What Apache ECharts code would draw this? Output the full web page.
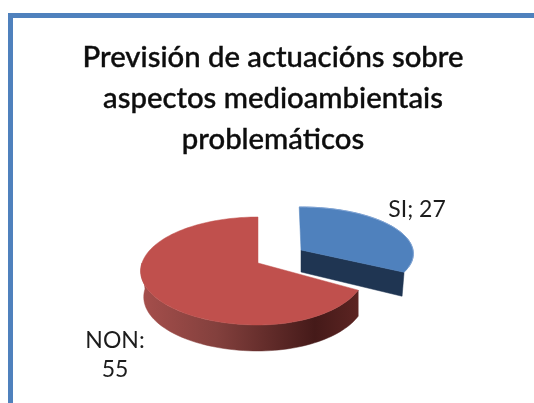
<!DOCTYPE html>
<html><head><meta charset="utf-8">
<style>html,body{margin:0;padding:0;background:#fff}#c{width:534px;height:403px}</style>
<script src="https://cdn.jsdelivr.net/npm/echarts@6/dist/echarts.min.js"></script>
</head><body><div id="c"></div>
<script>
const titleLines = ['Previsión de actuacións sobre','aspectos medioambientais','problemáticos'];
const categories = ['SI','NON'];
const values = [27,55];
const labelSeparators = ['; ',':\n'];

const total = values.reduce((a,b)=>a+b,0);
const geo = [
 {tx:301,ty:250,rxL:112,rxR:112,a:46.4,k:-0.079,depth:22,lean:-1,top:'#4f81bd',wall:'#1f3552',
  lx:417,ly:210,rim:'#7fa3d4'},
 {tx:258,ty:263,rxL:116,rxR:106,a:52.8,k:-0.148,depth:26,lean:0,top:'#c0504d',
  side:{type:'linear',x:0,y:0,x2:1,y2:0,colorStops:[
    {offset:0,color:'#a64f4c'},{offset:.35,color:'#83403d'},{offset:.8,color:'#451a19'},{offset:1,color:'#5c2422'}]},
  lx:115,ly:355}
];
function pt(g,deg,dy,sh){
  const t=deg*Math.PI/180,u=Math.sin(t),v=-Math.cos(t),d=1+g.k*v;
  const r=u<0?g.rxL-(sh||0):g.rxR;
  return [g.tx+r*u/d, g.ty+g.a*v/d+(dy||0)];
}
function arc(g,a0,a1,dy,sh){
  const out=[],n=Math.max(2,Math.ceil(Math.abs(a1-a0)/2));
  for(let i=0;i<=n;i++) out.push(pt(g,a0+(a1-a0)*i/n,dy,sh));
  return out;
}
function renderItem(params,api){
  const i=params.dataIndex,g=geo[i];
  let start=g.lean;
  for(let j=0;j<i;j++) start+=values[j]/total*360;
  const span=api.value(0)/total*360,end=start+span;
  const kids=[];
  const poly=(points,fill)=>kids.push({type:'polygon',shape:{points},
     style:{fill,stroke:fill,lineWidth:0.5}});
  if(i===0){
    const e=pt(g,end),tip=[g.tx,g.ty];
    poly([tip,e,[e[0]-2,e[1]+g.depth+2],[tip[0],tip[1]+g.depth]],g.wall);
  }else{
    const sTo=Math.min(end,270);
    poly(arc(g,start,sTo).concat(arc(g,sTo,start,g.depth,3)),g.side);
  }
  poly([[g.tx,g.ty]].concat(arc(g,start,end)),g.top);
  if(i===0) kids.push({type:'polyline',shape:{points:arc(g,start,end-6)},style:{fill:'none',stroke:g.rim,lineWidth:1}});
  kids.push({type:'text',x:g.lx,y:g.ly,style:{
    text:categories[i]+labelSeparators[i]+api.value(0),
    fontFamily:'Lato',fontSize:23,lineHeight:29,fill:'#1c1c1c',
    align:'center',verticalAlign:'middle'}});
  return {type:'group',children:kids};
}
const chart=echarts.init(document.getElementById('c'),null,{renderer:'canvas'});
chart.setOption({
  animation:false,backgroundColor:'#fff',
  title:{text:titleLines.join('\n'),left:268,top:32,textAlign:'center',
    textStyle:{fontFamily:'Lato',fontSize:29.3,fontWeight:500,lineHeight:41,color:'#0d0d0d',
      textBorderColor:'#0d0d0d',textBorderWidth:0.4}},
  graphic:[{type:'polyline',silent:true,shape:{points:[[10.5,403],[10.5,15.5],[534,15.5]]},
    style:{fill:'none',stroke:'#4f81bd',lineWidth:5}}],
  series:[{type:'custom',coordinateSystem:'none',renderItem,silent:true,
    data:values.map(v=>[v])}]
});
</script></body></html>
